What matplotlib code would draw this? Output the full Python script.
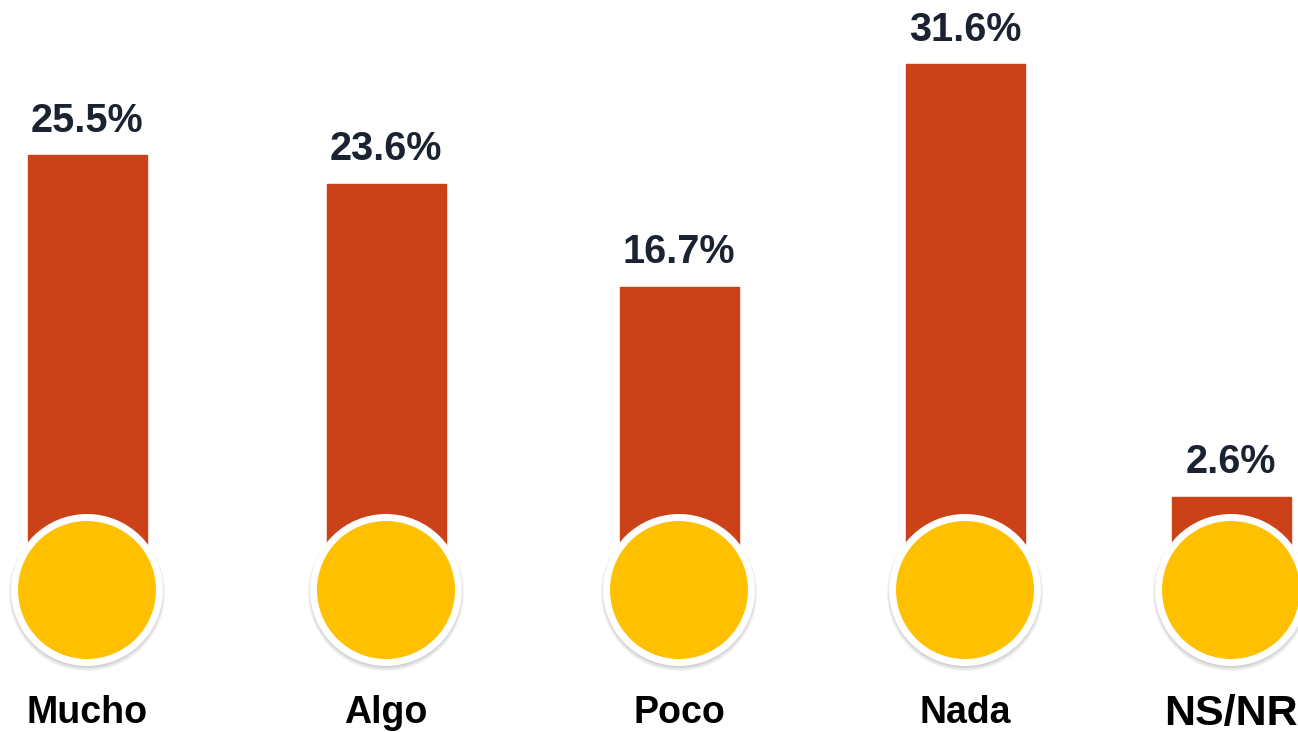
import matplotlib
matplotlib.use("Agg")
import matplotlib.pyplot as plt
from matplotlib.patches import Ellipse

categories = ["Mucho", "Algo", "Poco", "Nada", "NS/NR"]
values = [25.5, 23.6, 16.7, 31.6, 2.6]
value_labels = ["25.5%", "23.6%", "16.7%", "31.6%", "2.6%"]

# layout (pixel x centres, pixel scale of the value axis)
x_pos = [87, 386, 679, 965, 1231]
px_per_unit = 14.92
zero_px = 535.7
W, H = 1298, 732

bar_color = "#CB4118"
dot_color = "#FFC000"
num_color = "#1B2232"

plt.rcParams['font.family'] = ['Liberation Sans', 'DejaVu Sans']

fig = plt.figure(figsize=(W / 100, H / 100), dpi=100)
ax = fig.add_axes([0, 0, 1, 1])
ax.set_xlim(0, W)
ax.set_ylim((zero_px - H) / px_per_unit, zero_px / px_per_unit)
ax.axis("off")

def to_val(py):
    return (zero_px - py) / px_per_unit

circle_y = to_val(590)

bars = ax.bar(x_pos, [v - circle_y for v in values], bottom=circle_y, width=119,
              color=bar_color, edgecolor=bar_color, linewidth=1, joinstyle="round", zorder=1)

for x, v, lab in zip(x_pos, values, value_labels):
    ax.annotate(lab, (x, v), xytext=(0, 17), textcoords="offset points",
                ha="center", va="baseline", fontsize=28.5, fontweight="bold",
                color=num_color, zorder=5)

def circ(x, y, r, **kw):
    return Ellipse((x, y), 2 * r, 2 * r / px_per_unit, **kw)

for x in x_pos:
    # soft shadow under the badge
    for i, a in enumerate([0.05, 0.05, 0.06, 0.07]):
        ax.add_patch(circ(x, circle_y - (3 - i * 0.5) / px_per_unit, 78 - i,
                          facecolor="black", alpha=a, edgecolor="none", zorder=2))
    ax.add_patch(circ(x, circle_y, 76, facecolor="white", edgecolor="none", zorder=3))
    ax.add_patch(circ(x, circle_y, 69, facecolor=dot_color, edgecolor="none", zorder=4))

for x, c in zip(x_pos, categories):
    if c == "NS/NR":
        fs, yy = 31, to_val(725)
    else:
        fs, yy = 27, to_val(723)
    ax.text(x, yy, c, ha="center", va="baseline", fontsize=fs,
            fontweight="bold", color="black", zorder=5)

fig.savefig("out.png", dpi=100, facecolor="white")
